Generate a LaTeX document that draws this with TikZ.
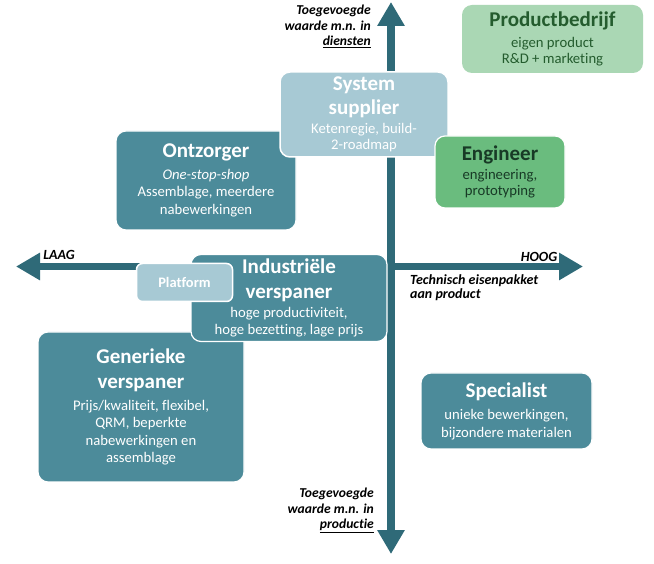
\documentclass[tikz,border=0pt]{standalone}
\usepackage{fontspec}
\setmainfont{Carlito}[Ligatures=NoCommon]
\usetikzlibrary{arrows.meta}
\definecolor{arrowteal}{RGB}{47,106,120}
\definecolor{boxteal}{RGB}{76,139,154}
\definecolor{lightblue}{RGB}{167,201,212}
\definecolor{lightgreen}{RGB}{170,215,180}
\definecolor{midgreen}{RGB}{106,188,126}
\definecolor{darkgreen}{RGB}{36,92,46}
\definecolor{engtext}{RGB}{24,58,38}
\newcommand{\ttl}[1]{{\fontsize{21}{24}\selectfont\bfseries #1}}
\newcommand{\bxfont}{\fontsize{14.7}{17.5}\selectfont\lineskiplimit -100pt\relax}
\begin{document}
\begin{tikzpicture}[x=1pt,y=1pt,
  boxbase/.style={rounded corners=10pt, align=center, inner sep=0pt, anchor=center,
    font=\bxfont},
  tealbox/.style={boxbase, fill=boxteal, draw=white, line width=1.2pt, text=white},
  bluebox/.style={boxbase, fill=lightblue, draw=white, line width=1.5pt, text=white},
  axis/.style={draw=arrowteal, line width=7.5pt, {Triangle[width=26pt,length=24pt]}-{Triangle[width=26pt,length=24pt]}},
  axlabel/.style={font=\fontsize{13.6}{15.5}\selectfont\bfseries\itshape, inner sep=0pt},
  biglabel/.style={font=\fontsize{14}{14.5}\selectfont\bfseries\itshape, inner sep=0pt}
]
\useasboundingbox (0,0) rectangle (654,563);
\fill[white] (0,0) rectangle (654,563);

% axes
\coordinate (vtop) at (391,561);
\coordinate (vbot) at (391,9);
\coordinate (hleft) at (16,296.5);
\coordinate (hright) at (583,296.5);
\draw[axis] (vbot) -- (vtop);
\draw[axis] (hleft) -- (hright);

% boxes
\node[boxbase, fill=lightgreen, minimum width=181pt, minimum height=68pt, text=darkgreen] (prod) at (552.5,524)
  {\ttl{Productbedrijf}\\[3pt]eigen product\\[-1.5pt]R\&D + marketing};

\node[tealbox, minimum width=180pt, minimum height=99pt] (ontz) at (206,382.5)
  {\ttl{Ontzorger}\\[4pt]\itshape One-stop-shop\\Assemblage, meerdere\\nabewerkingen};

\node[bluebox, minimum width=168pt, minimum height=85pt] (sys) at (364,448.5)
  {\ttl{System}\\[6.5pt]\ttl{supplier}\\[2pt]Ketenregie, build-\\[-1.5pt]2-roadmap};

\node[boxbase, fill=midgreen, draw=white, line width=1.2pt, minimum width=130pt, minimum height=72pt, text=engtext] (eng) at (500,391)
  {\ttl{Engineer}\\[2pt]engineering,\\[-1.5pt]prototyping};

\node[tealbox, minimum width=206pt, minimum height=150pt] (gen) at (141,156)
  {\ttl{Generieke}\\[7.5pt]\ttl{verspaner}\\[4pt]Prijs/kwaliteit, flexibel,\\QRM, beperkte\\nabewerkingen en\\assemblage};

\node[tealbox, minimum width=196pt, minimum height=87pt] (ind) at (289,265)
  {\ttl{Industriële}\\[7.5pt]\ttl{verspaner}\\[1pt]hoge productiviteit,\\hoge bezetting, lage prijs};

\node[bluebox, rounded corners=6pt, minimum width=96pt, minimum height=38pt, font=\fontsize{14.5}{17}\selectfont\bfseries] (plat) at (184.5,280.5) {Platform};

\node[tealbox, minimum width=171pt, minimum height=76pt] (spec) at (506.5,152)
  {\ttl{Specialist}\\[5pt]unieke bewerkingen,\\bijzondere materialen};

% axis labels
\node[axlabel, align=right, anchor=north east] (topl) at (371,558)
  {Toegevoegde\\waarde m.n. in\\\underline{diensten}};
\node[axlabel, align=right, anchor=north east] (botl) at (374,75)
  {Toegevoegde\\waarde m.n. in\\\underline{productie}};
\node[biglabel] (laag) at (59,308) {LAAG};
\node[biglabel] (hoog) at (539,306) {HOOG};
\node[biglabel, align=left, anchor=north west] (tech) at (410,289)
  {Technisch eisenpakket\\aan product};
\end{tikzpicture}
\end{document}
